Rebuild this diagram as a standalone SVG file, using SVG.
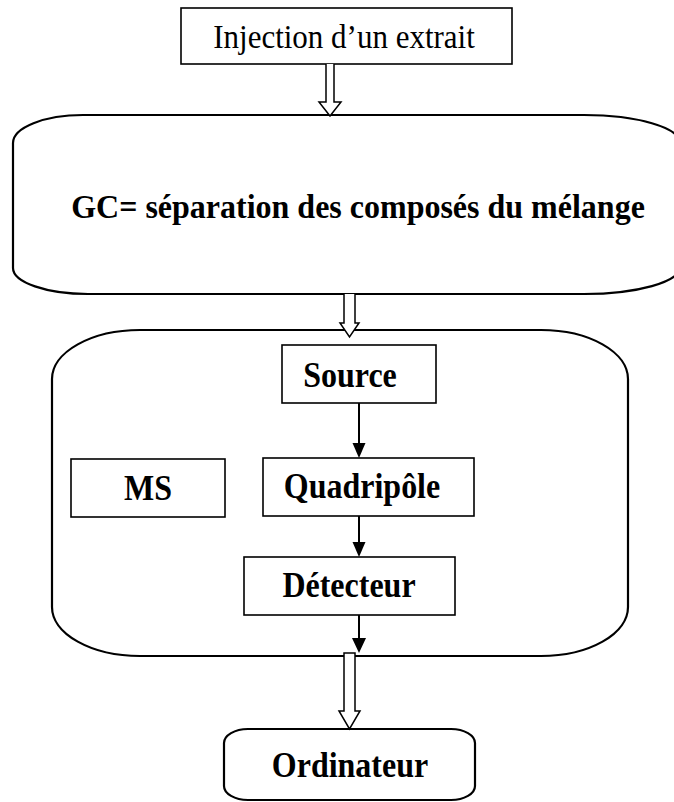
<svg xmlns="http://www.w3.org/2000/svg" width="674" height="802" viewBox="0 0 674 802">
<style>
.shape{fill:#fff;stroke:#000;stroke-width:2.2}
.box{fill:#fff;stroke:#000;stroke-width:1.6}
.hollow{fill:#fff;stroke:#000;stroke-width:1.5;stroke-linejoin:miter}
.line{stroke:#000;stroke-width:2;fill:none}
.head{fill:#000;stroke:none}
.t{font-family:"Liberation Serif","Times New Roman",serif;fill:#000;text-anchor:middle}
.b{font-weight:bold;font-size:32px}
</style>
<rect width="674" height="802" fill="#fff"/>
<g id="injection">
<rect class="box" x="181" y="8" width="331" height="56"/>
<text class="t" transform="translate(344 48) scale(1 1.08)" font-size="31">Injection d’un extrait</text>
</g>
<g id="gc">
<path class="shape" d="M83 115 H584 A96 28 0 0 1 680 143 V267 A96 27 0 0 1 584 294 H88 A75 26 0 0 1 13 268 V143 A70 28 0 0 1 83 115 Z"/>
<text class="t b" transform="translate(358 218) scale(1 1.08)">GC= séparation des composés du mélange</text>
</g>
<g id="ms-container">
<path class="shape" d="M140 330 H541 A87 49 0 0 1 628 379 V607 A87 49 0 0 1 541 656 H140 A88 49 0 0 1 52 607 V379 A88 49 0 0 1 140 330 Z"/>
</g>
<g id="source">
<rect class="box" x="282" y="345" width="154" height="58"/>
<text class="t b" transform="translate(350 387) scale(1 1.1)">Source</text>
</g>
<g id="ms">
<rect class="box" x="71" y="459" width="154" height="58"/>
<text class="t b" transform="translate(148 500) scale(1 1.1)">MS</text>
</g>
<g id="quadripole">
<rect class="box" x="263" y="458" width="211" height="58"/>
<text class="t b" transform="translate(362 498) scale(1 1.1)">Quadripôle</text>
</g>
<g id="detecteur">
<rect class="box" x="244" y="557" width="211" height="58"/>
<text class="t b" transform="translate(349 597) scale(1 1.1)">Détecteur</text>
</g>
<g id="ordinateur">
<rect class="shape" x="224" y="729" width="251" height="71" rx="24" ry="14"/>
<text class="t b" transform="translate(350 777) scale(1 1.1)">Ordinateur</text>
</g>
<g id="connectors">
<path class="hollow" d="M326 64 V102 H319 L330 116 L341 102 H334 V64"/>
<path class="hollow" d="M344 294 V323 H340 L349.5 337 L359 323 H355 V294"/>
<line class="line" x1="359" y1="403" x2="359" y2="445"/>
<polygon class="head" points="352.5,443 365.5,443 359,458"/>
<line class="line" x1="359" y1="516" x2="359" y2="544"/>
<polygon class="head" points="352.5,542 365.5,542 359,557"/>
<line class="line" x1="359" y1="615" x2="359" y2="640"/>
<polygon class="head" points="352,638 366,638 359,653"/>
<path class="hollow" d="M344 653 H355 V711 H360 L349.5 729 L339 711 H344 Z"/>
</g>
</svg>
